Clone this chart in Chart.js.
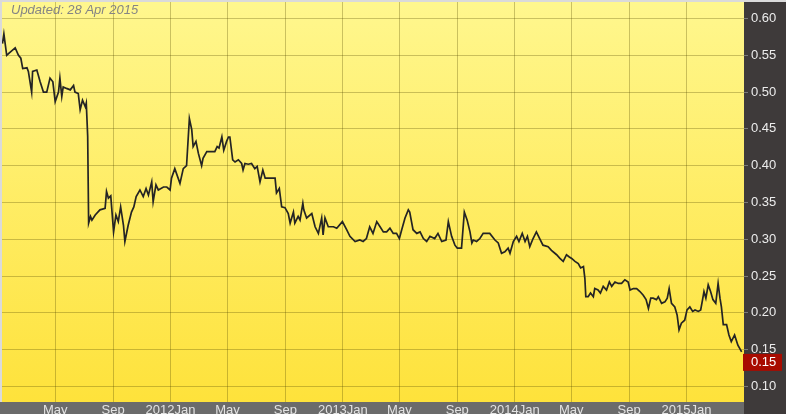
<!DOCTYPE html>
<html>
<head>
<meta charset="utf-8">
<script src="https://cdn.jsdelivr.net/npm/chart.js@4.4.1/dist/chart.umd.min.js"></script>
<style>
  html, body { margin: 0; padding: 0; background: #fff; }
  canvas { display: block; }
</style>
</head>
<body>
<canvas id="priceChart" width="786" height="419"></canvas>
<script>
// Share price, Jan 2011 - Apr 2015
const prices2011 = [
  ['2011-01-09', 0.566], ['2011-01-12', 0.579], ['2011-01-18', 0.550], ['2011-01-23', 0.553],
  ['2011-02-05', 0.560], ['2011-02-12', 0.550], ['2011-02-17', 0.546], ['2011-02-21', 0.532],
  ['2011-03-02', 0.533], ['2011-03-05', 0.528], ['2011-03-12', 0.500], ['2011-03-14', 0.528],
  ['2011-03-23', 0.530], ['2011-03-30', 0.514], ['2011-04-06', 0.500], ['2011-04-13', 0.500],
  ['2011-04-20', 0.519], ['2011-04-26', 0.514], ['2011-05-01', 0.487], ['2011-05-08', 0.500],
  ['2011-05-11', 0.519], ['2011-05-15', 0.494], ['2011-05-18', 0.507], ['2011-05-25', 0.505],
  ['2011-06-02', 0.503], ['2011-06-09', 0.509], ['2011-06-12', 0.500], ['2011-06-19', 0.498],
  ['2011-06-23', 0.476], ['2011-06-28', 0.489], ['2011-07-04', 0.480], ['2011-07-06', 0.485],
  ['2011-07-09', 0.440], ['2011-07-11', 0.322], ['2011-07-15', 0.331], ['2011-07-18', 0.326],
  ['2011-07-25', 0.333], ['2011-08-04', 0.340], ['2011-08-15', 0.342], ['2011-08-18', 0.365],
  ['2011-08-22', 0.356], ['2011-08-27', 0.359], ['2011-09-02', 0.310], ['2011-09-07', 0.333],
  ['2011-09-12', 0.324], ['2011-09-17', 0.344], ['2011-09-23', 0.319], ['2011-09-26', 0.297],
  ['2011-10-03', 0.319], ['2011-10-10', 0.337], ['2011-10-15', 0.344], ['2011-10-20', 0.358],
  ['2011-10-28', 0.367], ['2011-11-04', 0.358], ['2011-11-10', 0.369], ['2011-11-15', 0.360],
  ['2011-11-22', 0.378], ['2011-11-25', 0.351], ['2011-12-01', 0.374], ['2011-12-06', 0.367],
  ['2011-12-17', 0.371], ['2011-12-24', 0.371], ['2011-12-31', 0.367]
];
const prices2012 = [
  ['2012-01-03', 0.383], ['2012-01-10', 0.396], ['2012-01-21', 0.376], ['2012-01-28', 0.396],
  ['2012-02-04', 0.400], ['2012-02-10', 0.464], ['2012-02-15', 0.449], ['2012-02-18', 0.426],
  ['2012-02-24', 0.433], ['2012-02-29', 0.417], ['2012-03-07', 0.400], ['2012-03-10', 0.410],
  ['2012-03-18', 0.419], ['2012-03-28', 0.419], ['2012-04-04', 0.419], ['2012-04-09', 0.426],
  ['2012-04-13', 0.424], ['2012-04-19', 0.439], ['2012-04-23', 0.421], ['2012-04-29', 0.433],
  ['2012-05-03', 0.439], ['2012-05-06', 0.439], ['2012-05-12', 0.408], ['2012-05-17', 0.405],
  ['2012-05-24', 0.408], ['2012-05-31', 0.403], ['2012-06-03', 0.394], ['2012-06-07', 0.403],
  ['2012-06-14', 0.402], ['2012-06-21', 0.403], ['2012-06-28', 0.396], ['2012-07-03', 0.399],
  ['2012-07-09', 0.378], ['2012-07-15', 0.394], ['2012-07-20', 0.383], ['2012-07-27', 0.383],
  ['2012-08-10', 0.383], ['2012-08-13', 0.363], ['2012-08-19', 0.369], ['2012-08-24', 0.344],
  ['2012-08-31', 0.343], ['2012-09-07', 0.335], ['2012-09-11', 0.322], ['2012-09-18', 0.337],
  ['2012-09-21', 0.322], ['2012-09-28', 0.331], ['2012-10-02', 0.326], ['2012-10-08', 0.349],
  ['2012-10-10', 0.340], ['2012-10-16', 0.329], ['2012-10-27', 0.335], ['2012-11-03', 0.317],
  ['2012-11-10', 0.308], ['2012-11-17', 0.329], ['2012-11-20', 0.306], ['2012-11-24', 0.329],
  ['2012-12-01', 0.317], ['2012-12-12', 0.317], ['2012-12-19', 0.315], ['2012-12-31', 0.324]
];
const prices2013 = [
  ['2013-01-09', 0.313], ['2013-01-16', 0.304], ['2013-01-27', 0.297], ['2013-02-06', 0.299],
  ['2013-02-13', 0.297], ['2013-02-20', 0.301], ['2013-02-27', 0.317], ['2013-03-06', 0.308],
  ['2013-03-14', 0.324], ['2013-03-21', 0.317], ['2013-03-28', 0.310], ['2013-04-04', 0.310],
  ['2013-04-11', 0.315], ['2013-04-18', 0.308], ['2013-04-25', 0.308], ['2013-05-01', 0.301],
  ['2013-05-06', 0.313], ['2013-05-13', 0.329], ['2013-05-20', 0.340], ['2013-05-23', 0.337],
  ['2013-05-30', 0.313], ['2013-06-07', 0.308], ['2013-06-14', 0.310], ['2013-06-21', 0.301],
  ['2013-06-28', 0.297], ['2013-07-05', 0.304], ['2013-07-15', 0.301], ['2013-07-22', 0.308],
  ['2013-07-30', 0.297], ['2013-08-08', 0.299], ['2013-08-13', 0.324], ['2013-08-20', 0.304],
  ['2013-08-27', 0.292], ['2013-09-01', 0.288], ['2013-09-10', 0.288], ['2013-09-16', 0.337],
  ['2013-09-22', 0.326], ['2013-09-28', 0.310], ['2013-10-02', 0.295], ['2013-10-05', 0.299],
  ['2013-10-12', 0.297], ['2013-10-19', 0.301], ['2013-10-26', 0.308], ['2013-11-02', 0.308],
  ['2013-11-09', 0.308], ['2013-11-20', 0.299], ['2013-11-27', 0.295], ['2013-12-04', 0.281],
  ['2013-12-11', 0.283], ['2013-12-18', 0.288], ['2013-12-22', 0.281], ['2013-12-29', 0.297]
];
const prices2014 = [
  ['2014-01-05', 0.304], ['2014-01-10', 0.297], ['2014-01-17', 0.308], ['2014-01-23', 0.297],
  ['2014-01-28', 0.304], ['2014-02-02', 0.290], ['2014-02-09', 0.301], ['2014-02-16', 0.310],
  ['2014-02-23', 0.301], ['2014-03-02', 0.292], ['2014-03-13', 0.290], ['2014-03-20', 0.285],
  ['2014-03-31', 0.279], ['2014-04-07', 0.274], ['2014-04-14', 0.270], ['2014-04-21', 0.279],
  ['2014-04-27', 0.276], ['2014-05-02', 0.274], ['2014-05-09', 0.270], ['2014-05-16', 0.267],
  ['2014-05-21', 0.261], ['2014-05-27', 0.263], ['2014-05-30', 0.247], ['2014-06-01', 0.222],
  ['2014-06-06', 0.222], ['2014-06-11', 0.227], ['2014-06-17', 0.222], ['2014-06-20', 0.233],
  ['2014-06-27', 0.231], ['2014-07-02', 0.227], ['2014-07-08', 0.236], ['2014-07-15', 0.231],
  ['2014-07-21', 0.242], ['2014-07-26', 0.236], ['2014-08-02', 0.242], ['2014-08-09', 0.240],
  ['2014-08-16', 0.240], ['2014-08-23', 0.245], ['2014-08-30', 0.242], ['2014-09-03', 0.231],
  ['2014-09-10', 0.233], ['2014-09-17', 0.233], ['2014-09-24', 0.229], ['2014-10-01', 0.224],
  ['2014-10-07', 0.218], ['2014-10-12', 0.206], ['2014-10-17', 0.220], ['2014-10-22', 0.220],
  ['2014-10-29', 0.218], ['2014-11-02', 0.222], ['2014-11-09', 0.213], ['2014-11-16', 0.215],
  ['2014-11-21', 0.220], ['2014-11-25', 0.233], ['2014-11-30', 0.213], ['2014-12-07', 0.208],
  ['2014-12-12', 0.197], ['2014-12-16', 0.177], ['2014-12-21', 0.186], ['2014-12-28', 0.190]
];
const prices2015 = [
  ['2015-01-02', 0.204], ['2015-01-08', 0.208], ['2015-01-14', 0.202], ['2015-01-19', 0.204],
  ['2015-01-26', 0.202], ['2015-01-31', 0.204], ['2015-02-04', 0.218], ['2015-02-07', 0.229],
  ['2015-02-11', 0.220], ['2015-02-16', 0.238], ['2015-02-21', 0.229], ['2015-02-26', 0.218],
  ['2015-03-04', 0.213], ['2015-03-09', 0.240], ['2015-03-13', 0.220], ['2015-03-16', 0.208],
  ['2015-03-20', 0.184], ['2015-03-27', 0.184], ['2015-04-01', 0.170], ['2015-04-06', 0.161],
  ['2015-04-13', 0.170], ['2015-04-20', 0.156], ['2015-04-28', 0.147]
];

const xTickDates = ['2011-05-01', '2011-09-01', '2012-01-01', '2012-05-01', '2012-09-01', '2013-01-01',
  '2013-05-01', '2013-09-01', '2014-01-01', '2014-05-01', '2014-09-01', '2015-01-01'];
const xTickLabels = ['May', 'Sep', '2012Jan', 'May', 'Sep', '2013Jan',
  'May', 'Sep', '2014Jan', 'May', 'Sep', '2015Jan'];
const yTickValues = [0.10, 0.15, 0.20, 0.25, 0.30, 0.35, 0.40, 0.45, 0.50, 0.55, 0.60];

const updatedText = 'Updated: 28 Apr 2015';
const axisStart = '2011-01-08';
const axisEnd = '2015-05-03';

// day number from an ISO date, so the x axis is linear in time
const toDay = s => {
  const [y, m, d] = s.split('-').map(Number);
  return Date.UTC(y, m - 1, d) / 86400000;
};

const allPrices = [...prices2011, ...prices2012, ...prices2013, ...prices2014, ...prices2015];
const points = allPrices.map(([d, v]) => ({ x: toDay(d), y: v }));
const lastValue = allPrices[allPrices.length - 1][1];

const FONT = '"Liberation Sans", Arial, sans-serif';
const GRID = 'rgba(80, 68, 0, 0.3)';

const panelPlugin = {
  id: 'panels',
  beforeDraw(chart) {
    const { ctx, chartArea: a, width, height } = chart;
    const bottom = height - 5;
    ctx.save();
    ctx.fillStyle = '#dadada';
    ctx.fillRect(0, 0, width, height);
    // right value panel
    ctx.fillStyle = '#3e3a3a';
    ctx.fillRect(a.right, a.top, width - a.right, bottom - a.top);
    // bottom date panel
    ctx.fillStyle = '#6b6b6b';
    ctx.fillRect(0, a.bottom, a.right, bottom - a.bottom);
    // yellow plot background
    const g = ctx.createLinearGradient(0, a.top, 0, a.bottom);
    g.addColorStop(0, '#fff78e');
    g.addColorStop(1, '#fee23b');
    ctx.fillStyle = g;
    ctx.fillRect(a.left, a.top, a.right - a.left, a.bottom - a.top);
    ctx.restore();
  },
  afterDraw(chart) {
    const { ctx, chartArea: a, width, height, scales } = chart;
    ctx.save();
    // white strip cuts off the bottom of the date labels
    ctx.fillStyle = '#ffffff';
    ctx.fillRect(0, height - 5, width, 5);

    // last price marker
    const y = scales.y.getPixelForValue(lastValue);
    ctx.fillStyle = '#a80b00';
    ctx.fillRect(a.right - 1, y + 2, 39, 17);
    ctx.fillStyle = '#ffffff';
    ctx.font = '13px ' + FONT;
    ctx.textBaseline = 'middle';
    ctx.textAlign = 'left';
    ctx.fillText(lastValue.toFixed(2), a.right + 7, y + 11);

    // updated stamp
    ctx.fillStyle = '#858585';
    ctx.font = 'italic 13px ' + FONT;
    ctx.textBaseline = 'alphabetic';
    ctx.fillText(updatedText, a.left + 9, a.top + 12);
    ctx.restore();
  }
};

window.addEventListener('DOMContentLoaded', () => {
  const ctx = document.getElementById('priceChart');

  new Chart(ctx, {
    type: 'line',
    data: {
      datasets: [{
        data: points,
        borderColor: '#242424',
        borderWidth: 1.7,
        pointRadius: 0,
        tension: 0,
        fill: false
      }]
    },
    options: {
      responsive: false,
      animation: false,
      layout: { padding: { top: 2, left: 2, right: 0, bottom: 5 } },
      plugins: {
        legend: { display: false },
        tooltip: { enabled: false }
      },
      scales: {
        x: {
          type: 'linear',
          min: toDay(axisStart),
          max: toDay(axisEnd),
          afterBuildTicks: s => { s.ticks = xTickDates.map(d => ({ value: toDay(d) })); },
          afterFit: s => { s.height = 12; s.paddingLeft = 0; s.paddingRight = 0; },
          grid: { color: GRID, drawTicks: false },
          border: { display: false },
          ticks: {
            padding: 1,
            autoSkip: false,
            maxRotation: 0,
            color: '#e2e2e2',
            font: { family: FONT, size: 13 },
            callback: (v, i) => xTickLabels[i]
          }
        },
        y: {
          position: 'right',
          min: 0.0789,
          max: 0.6224,
          afterBuildTicks: s => { s.ticks = yTickValues.map(v => ({ value: v })); },
          afterFit: s => { s.width = 42; s.paddingTop = 0; s.paddingBottom = 0; },
          grid: { color: GRID, tickLength: 4, tickColor: '#7a7a7a' },
          border: { display: false },
          ticks: {
            padding: 3,
            color: '#ececec',
            font: { family: FONT, size: 13 },
            callback: v => v.toFixed(2)
          }
        }
      }
    },
    plugins: [panelPlugin]
  });
});
</script>
</body>
</html>
